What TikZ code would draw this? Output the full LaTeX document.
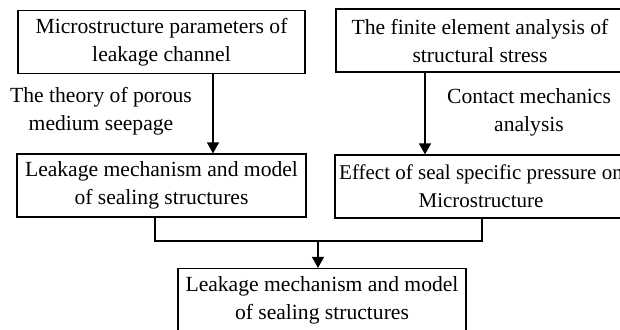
\documentclass[tikz,border=0pt]{standalone}
\usepackage{fontspec}
\setmainfont{Liberation Serif}
\usetikzlibrary{arrows.meta}
\begin{document}
\begin{tikzpicture}[
			x=0.5pt, y=-0.5pt,
			box/.style={draw, line width=0.6pt, inner sep=0pt, align=center, minimum height=31.5pt},
			lbl/.style={align=center},
			arr/.style={-{Triangle[length=5.5pt,width=6pt]}},
			line width=0.6pt,
			font=\fontsize{10.8}{14}\selectfont
			]
			\useasboundingbox (0,0) rectangle (620,329);
			% --- top row ---
			\node[box, minimum width=143.5pt] (micro) at (161.5,42) {Microstructure parameters of\\leakage channel};
			\node[box, minimum width=144pt] (fea) at (480,40.5) {The finite element analysis of\\structural stress};
			% --- middle row ---
			\node[box, minimum width=146pt, font=\fontsize{10.5}{14}\selectfont] (effect) at (481,186.5) {Effect of seal specific pressure on\\Microstructure};
			\node[box, minimum width=144.5pt] (leak) at (161.5,185.5) {Leakage mechanism and model\\of sealing structures};
			% --- bottom ---
			\node[box, minimum width=144pt] (result) at (322,300) {Leakage mechanism and model\\of sealing structures};
			% --- labels ---
			\node[lbl] (porous) at (101,111) {The theory of porous\\medium seepage};
			\node[lbl] (contact) at (529,112) {Contact mechanics\\analysis};
			% --- connectors ---
			\coordinate (p1) at (213,0);
			\coordinate (p2) at (425,0);
			\coordinate (j1) at (155,241);
			\coordinate (j2) at (482,241);
			\coordinate (jm) at (318,241);
			\draw[arr] (micro.south -| p1) -- (leak.north -| p1);
			\draw[arr] (fea.south -| p2) -- (effect.north -| p2);
			\draw (leak.south -| j1) -- (j1) -- (j2) -- (effect.south -| j2);
			\draw[arr] (jm) -- (result.north -| jm);
		\end{tikzpicture}
\end{document}
